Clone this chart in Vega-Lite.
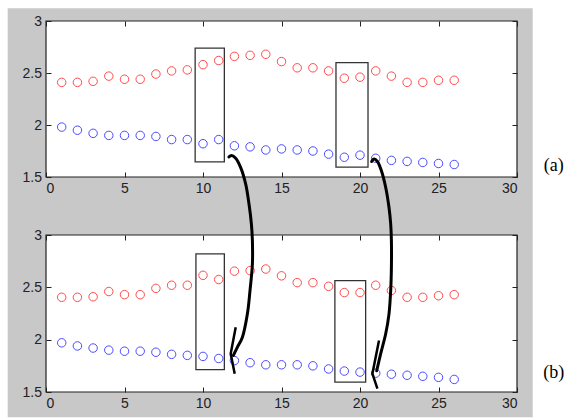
{
  "$schema": "https://vega.github.io/schema/vega-lite/v6.json",
  "background": "white",
  "padding": {"left": 7, "top": 8, "right": 0, "bottom": 1},
  "bounds": "flush",
  "spacing": 58,
  "config": {
    "view": {"fill": "white", "stroke": null},
    "axis": {"labelFont": "Liberation Sans", "labelFontSize": 14, "labelColor": "#222", "tickColor": "#222", "grid": false, "domain": false, "tickSize": -5, "zindex": 1},
    "axisX": {"labelPadding": 9},
    "axisY": {"labelPadding": 9.5}
  },
  "datasets": {
    "bg": [{"x": -2.44, "x2": 31.0, "y": -0.811, "y2": 3.122}],
    "plot": [{"x": 0, "x2": 30, "y": 1.5, "y2": 3}],
    "ptsA": [
      {"x": 1, "y": 2.41, "s": "r"}, {"x": 2, "y": 2.41, "s": "r"}, {"x": 3, "y": 2.42, "s": "r"}, {"x": 4, "y": 2.47, "s": "r"}, {"x": 5, "y": 2.44, "s": "r"}, {"x": 6, "y": 2.44, "s": "r"}, {"x": 7, "y": 2.49, "s": "r"}, {"x": 8, "y": 2.52, "s": "r"}, {"x": 9, "y": 2.53, "s": "r"}, {"x": 10, "y": 2.58, "s": "r"}, {"x": 11, "y": 2.62, "s": "r"}, {"x": 12, "y": 2.66, "s": "r"}, {"x": 13, "y": 2.67, "s": "r"}, {"x": 14, "y": 2.68, "s": "r"}, {"x": 15, "y": 2.61, "s": "r"}, {"x": 16, "y": 2.55, "s": "r"}, {"x": 17, "y": 2.55, "s": "r"}, {"x": 18, "y": 2.52, "s": "r"}, {"x": 19, "y": 2.45, "s": "r"}, {"x": 20, "y": 2.46, "s": "r"}, {"x": 21, "y": 2.52, "s": "r"}, {"x": 22, "y": 2.47, "s": "r"}, {"x": 23, "y": 2.41, "s": "r"}, {"x": 24, "y": 2.41, "s": "r"}, {"x": 25, "y": 2.43, "s": "r"}, {"x": 26, "y": 2.43, "s": "r"},
      {"x": 1, "y": 1.98, "s": "b"}, {"x": 2, "y": 1.95, "s": "b"}, {"x": 3, "y": 1.92, "s": "b"}, {"x": 4, "y": 1.9, "s": "b"}, {"x": 5, "y": 1.9, "s": "b"}, {"x": 6, "y": 1.9, "s": "b"}, {"x": 7, "y": 1.89, "s": "b"}, {"x": 8, "y": 1.86, "s": "b"}, {"x": 9, "y": 1.86, "s": "b"}, {"x": 10, "y": 1.82, "s": "b"}, {"x": 11, "y": 1.86, "s": "b"}, {"x": 12, "y": 1.8, "s": "b"}, {"x": 13, "y": 1.79, "s": "b"}, {"x": 14, "y": 1.76, "s": "b"}, {"x": 15, "y": 1.77, "s": "b"}, {"x": 16, "y": 1.76, "s": "b"}, {"x": 17, "y": 1.75, "s": "b"}, {"x": 18, "y": 1.72, "s": "b"}, {"x": 19, "y": 1.69, "s": "b"}, {"x": 20, "y": 1.71, "s": "b"}, {"x": 21, "y": 1.68, "s": "b"}, {"x": 22, "y": 1.66, "s": "b"}, {"x": 23, "y": 1.65, "s": "b"}, {"x": 24, "y": 1.64, "s": "b"}, {"x": 25, "y": 1.63, "s": "b"}, {"x": 26, "y": 1.62, "s": "b"}
    ],
    "ptsB": [
      {"x": 1, "y": 2.405, "s": "r"}, {"x": 2, "y": 2.405, "s": "r"}, {"x": 3, "y": 2.41, "s": "r"}, {"x": 4, "y": 2.46, "s": "r"}, {"x": 5, "y": 2.43, "s": "r"}, {"x": 6, "y": 2.43, "s": "r"}, {"x": 7, "y": 2.49, "s": "r"}, {"x": 8, "y": 2.52, "s": "r"}, {"x": 9, "y": 2.52, "s": "r"}, {"x": 10, "y": 2.615, "s": "r"}, {"x": 11, "y": 2.575, "s": "r"}, {"x": 12, "y": 2.655, "s": "r"}, {"x": 13, "y": 2.66, "s": "r"}, {"x": 14, "y": 2.675, "s": "r"}, {"x": 15, "y": 2.61, "s": "r"}, {"x": 16, "y": 2.545, "s": "r"}, {"x": 17, "y": 2.545, "s": "r"}, {"x": 18, "y": 2.51, "s": "r"}, {"x": 19, "y": 2.45, "s": "r"}, {"x": 20, "y": 2.45, "s": "r"}, {"x": 21, "y": 2.52, "s": "r"}, {"x": 22, "y": 2.47, "s": "r"}, {"x": 23, "y": 2.405, "s": "r"}, {"x": 24, "y": 2.405, "s": "r"}, {"x": 25, "y": 2.42, "s": "r"}, {"x": 26, "y": 2.43, "s": "r"},
      {"x": 1, "y": 1.97, "s": "b"}, {"x": 2, "y": 1.94, "s": "b"}, {"x": 3, "y": 1.92, "s": "b"}, {"x": 4, "y": 1.9, "s": "b"}, {"x": 5, "y": 1.89, "s": "b"}, {"x": 6, "y": 1.89, "s": "b"}, {"x": 7, "y": 1.88, "s": "b"}, {"x": 8, "y": 1.86, "s": "b"}, {"x": 9, "y": 1.85, "s": "b"}, {"x": 10, "y": 1.84, "s": "b"}, {"x": 11, "y": 1.82, "s": "b"}, {"x": 12, "y": 1.8, "s": "b"}, {"x": 13, "y": 1.78, "s": "b"}, {"x": 14, "y": 1.76, "s": "b"}, {"x": 15, "y": 1.76, "s": "b"}, {"x": 16, "y": 1.76, "s": "b"}, {"x": 17, "y": 1.75, "s": "b"}, {"x": 18, "y": 1.72, "s": "b"}, {"x": 19, "y": 1.7, "s": "b"}, {"x": 20, "y": 1.69, "s": "b"}, {"x": 21, "y": 1.68, "s": "b"}, {"x": 22, "y": 1.67, "s": "b"}, {"x": 23, "y": 1.66, "s": "b"}, {"x": 24, "y": 1.65, "s": "b"}, {"x": 25, "y": 1.64, "s": "b"}, {"x": 26, "y": 1.62, "s": "b"}
    ],
    "boxA": [{"x": 9.5, "x2": 11.36, "y": 1.645, "y2": 2.74}, {"x": 18.47, "x2": 20.51, "y": 1.595, "y2": 2.6}],
    "boxB": [{"x": 9.55, "x2": 11.36, "y": 1.713, "y2": 2.82}, {"x": 18.4, "x2": 20.36, "y": 1.595, "y2": 2.564}],
    "labA": [{"x": 32.34, "y": 1.61, "t": "(a)"}],
    "labB": [{"x": 32.34, "y": 1.68, "t": "(b)"}],
    "curve": [
      {"a": "L", "i": 0, "x": 11.656, "y": 3.746}, {"a": "L", "i": 1, "x": 11.809, "y": 3.759}, {"a": "L", "i": 2, "x": 12.083, "y": 3.734}, {"a": "L", "i": 3, "x": 12.401, "y": 3.644}, {"a": "L", "i": 4, "x": 12.72, "y": 3.486}, {"a": "L", "i": 5, "x": 12.93, "y": 3.296}, {"a": "L", "i": 6, "x": 13.083, "y": 3.105}, {"a": "L", "i": 7, "x": 13.146, "y": 2.946}, {"a": "L", "i": 8, "x": 13.146, "y": 2.723}, {"a": "L", "i": 9, "x": 12.994, "y": 2.469}, {"a": "L", "i": 10, "x": 12.828, "y": 2.247}, {"a": "L", "i": 11, "x": 12.51, "y": 2.024}, {"a": "L", "i": 12, "x": 12.191, "y": 1.928}, {"a": "L", "i": 13, "x": 11.936, "y": 1.849},
      {"a": "R", "i": 0, "x": 20.745, "y": 3.702}, {"a": "R", "i": 1, "x": 20.892, "y": 3.725}, {"a": "R", "i": 2, "x": 21.108, "y": 3.702}, {"a": "R", "i": 3, "x": 21.363, "y": 3.613}, {"a": "R", "i": 4, "x": 21.637, "y": 3.454}, {"a": "R", "i": 5, "x": 21.847, "y": 3.263}, {"a": "R", "i": 6, "x": 21.955, "y": 3.105}, {"a": "R", "i": 7, "x": 22.0, "y": 2.946}, {"a": "R", "i": 8, "x": 22.0, "y": 2.691}, {"a": "R", "i": 9, "x": 21.955, "y": 2.469}, {"a": "R", "i": 10, "x": 21.847, "y": 2.247}, {"a": "R", "i": 11, "x": 21.637, "y": 2.056}, {"a": "R", "i": 12, "x": 21.318, "y": 1.866}, {"a": "R", "i": 13, "x": 21.064, "y": 1.703}
    ],
    "head": [
      {"a": "L", "i": 0, "x": 12.083, "y": 2.119}, {"a": "L", "i": 1, "x": 11.764, "y": 1.866}, {"a": "L", "i": 2, "x": 12.019, "y": 1.675},
      {"a": "R", "i": 0, "x": 21.21, "y": 1.992}, {"a": "R", "i": 1, "x": 20.79, "y": 1.675}, {"a": "R", "i": 2, "x": 21.108, "y": 1.532}
    ]
  },
  "vconcat": [
    {
      "width": 471,
      "height": 156,
      "resolve": {"axis": {"x": "independent", "y": "independent"}},
      "layer": [
        {
          "data": {"name": "bg"},
          "mark": {"type": "rect", "fill": "#c8c8c8"},
          "encoding": {
            "x": {"field": "x", "type": "quantitative", "scale": {"domain": [0, 30], "nice": false, "zero": false}, "axis": {"orient": "bottom", "values": [0, 5, 10, 15, 20, 25, 30], "title": null, "zindex": 2}},
            "x2": {"field": "x2"},
            "y": {"field": "y", "type": "quantitative", "scale": {"domain": [1.5, 3], "nice": false, "zero": false}, "axis": {"orient": "left", "values": [1.5, 2, 2.5, 3], "labelExpr": "'' + datum.value", "title": null, "zindex": 2}},
            "y2": {"field": "y2"}
          }
        },
        {
          "data": {"name": "plot"},
          "mark": {"type": "rect", "fill": "white", "stroke": "#222", "strokeWidth": 1.2},
          "encoding": {
            "x": {"field": "x", "type": "quantitative", "scale": {"domain": [0, 30], "nice": false, "zero": false}, "axis": {"orient": "top", "values": [0, 5, 10, 15, 20, 25, 30], "labels": false, "title": null, "zindex": 2}},
            "x2": {"field": "x2"},
            "y": {"field": "y", "type": "quantitative", "scale": {"domain": [1.5, 3], "nice": false, "zero": false}, "axis": {"orient": "right", "values": [1.5, 2, 2.5, 3], "labels": false, "title": null, "zindex": 2}},
            "y2": {"field": "y2"}
          }
        },
        {
          "data": {"name": "ptsA"},
          "mark": {"type": "point", "shape": "circle", "filled": false, "size": 72, "strokeWidth": 1},
          "encoding": {
            "x": {"field": "x", "type": "quantitative", "scale": {"domain": [0, 30], "nice": false, "zero": false}, "axis": null},
            "y": {"field": "y", "type": "quantitative", "scale": {"domain": [1.5, 3], "nice": false, "zero": false}, "axis": null},
            "color": {"field": "s", "type": "nominal", "scale": {"domain": ["r", "b"], "range": ["#ff0000", "#0000ff"]}, "legend": null}
          }
        },
        {
          "data": {"name": "boxA"},
          "mark": {"type": "rect", "fill": null, "fillOpacity": 0, "stroke": "#333", "strokeWidth": 1.3},
          "encoding": {
            "x": {"field": "x", "type": "quantitative", "scale": {"domain": [0, 30], "nice": false, "zero": false}, "axis": null},
            "x2": {"field": "x2"},
            "y": {"field": "y", "type": "quantitative", "scale": {"domain": [1.5, 3], "nice": false, "zero": false}, "axis": null},
            "y2": {"field": "y2"}
          }
        },
        {
          "data": {"name": "labA"},
          "mark": {"type": "text", "font": "Liberation Serif", "fontSize": 18, "color": "black", "align": "center", "baseline": "middle"},
          "encoding": {
            "x": {"field": "x", "type": "quantitative", "scale": {"domain": [0, 30], "nice": false, "zero": false}, "axis": null},
            "y": {"field": "y", "type": "quantitative", "scale": {"domain": [1.5, 3], "nice": false, "zero": false}, "axis": null},
            "text": {"field": "t"}
          }
        }
      ]
    },
    {
      "width": 471,
      "height": 157,
      "resolve": {"axis": {"x": "independent", "y": "independent"}},
      "layer": [
        {
          "data": {"name": "plot"},
          "mark": {"type": "rect", "fill": "white", "stroke": "#222", "strokeWidth": 1.2},
          "encoding": {
            "x": {"field": "x", "type": "quantitative", "scale": {"domain": [0, 30], "nice": false, "zero": false}, "axis": {"orient": "bottom", "values": [0, 5, 10, 15, 20, 25, 30], "title": null, "zindex": 2}},
            "x2": {"field": "x2"},
            "y": {"field": "y", "type": "quantitative", "scale": {"domain": [1.5, 3], "nice": false, "zero": false}, "axis": {"orient": "left", "values": [1.5, 2, 2.5, 3], "labelExpr": "'' + datum.value", "title": null, "zindex": 2}},
            "y2": {"field": "y2"}
          }
        },
        {
          "data": {"name": "plot"},
          "mark": {"type": "rect", "fill": "white", "fillOpacity": 0},
          "encoding": {
            "x": {"field": "x", "type": "quantitative", "scale": {"domain": [0, 30], "nice": false, "zero": false}, "axis": {"orient": "top", "values": [0, 5, 10, 15, 20, 25, 30], "labels": false, "title": null, "zindex": 2}},
            "x2": {"field": "x2"},
            "y": {"field": "y", "type": "quantitative", "scale": {"domain": [1.5, 3], "nice": false, "zero": false}, "axis": {"orient": "right", "values": [1.5, 2, 2.5, 3], "labels": false, "title": null, "zindex": 2}},
            "y2": {"field": "y2"}
          }
        },
        {
          "data": {"name": "ptsB"},
          "mark": {"type": "point", "shape": "circle", "filled": false, "size": 72, "strokeWidth": 1},
          "encoding": {
            "x": {"field": "x", "type": "quantitative", "scale": {"domain": [0, 30], "nice": false, "zero": false}, "axis": null},
            "y": {"field": "y", "type": "quantitative", "scale": {"domain": [1.5, 3], "nice": false, "zero": false}, "axis": null},
            "color": {"field": "s", "type": "nominal", "scale": {"domain": ["r", "b"], "range": ["#ff0000", "#0000ff"]}, "legend": null}
          }
        },
        {
          "data": {"name": "boxB"},
          "mark": {"type": "rect", "fill": null, "fillOpacity": 0, "stroke": "#333", "strokeWidth": 1.3},
          "encoding": {
            "x": {"field": "x", "type": "quantitative", "scale": {"domain": [0, 30], "nice": false, "zero": false}, "axis": null},
            "x2": {"field": "x2"},
            "y": {"field": "y", "type": "quantitative", "scale": {"domain": [1.5, 3], "nice": false, "zero": false}, "axis": null},
            "y2": {"field": "y2"}
          }
        },
        {
          "data": {"name": "curve"},
          "mark": {"type": "line", "color": "black", "strokeWidth": 3, "interpolate": "catmull-rom", "strokeCap": "round", "clip": false},
          "encoding": {
            "x": {"field": "x", "type": "quantitative", "scale": {"domain": [0, 30], "nice": false, "zero": false}, "axis": null},
            "y": {"field": "y", "type": "quantitative", "scale": {"domain": [1.5, 3], "nice": false, "zero": false}, "axis": null},
            "detail": {"field": "a"},
            "order": {"field": "i", "type": "quantitative"}
          }
        },
        {
          "data": {"name": "head"},
          "mark": {"type": "line", "color": "black", "strokeWidth": 2.5, "strokeJoin": "miter", "clip": false},
          "encoding": {
            "x": {"field": "x", "type": "quantitative", "scale": {"domain": [0, 30], "nice": false, "zero": false}, "axis": null},
            "y": {"field": "y", "type": "quantitative", "scale": {"domain": [1.5, 3], "nice": false, "zero": false}, "axis": null},
            "detail": {"field": "a"},
            "order": {"field": "i", "type": "quantitative"}
          }
        },
        {
          "data": {"name": "labB"},
          "mark": {"type": "text", "font": "Liberation Serif", "fontSize": 18, "color": "black", "align": "center", "baseline": "middle"},
          "encoding": {
            "x": {"field": "x", "type": "quantitative", "scale": {"domain": [0, 30], "nice": false, "zero": false}, "axis": null},
            "y": {"field": "y", "type": "quantitative", "scale": {"domain": [1.5, 3], "nice": false, "zero": false}, "axis": null},
            "text": {"field": "t"}
          }
        }
      ]
    }
  ]
}
